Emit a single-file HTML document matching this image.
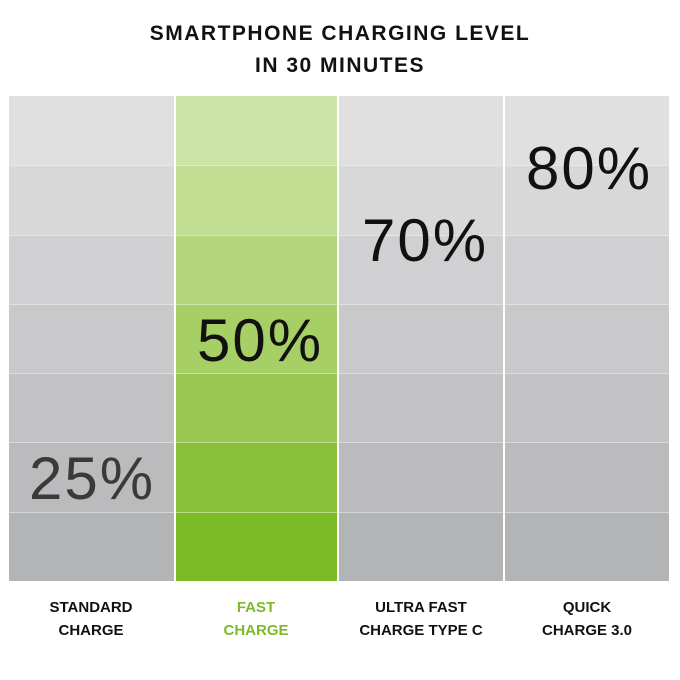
<!DOCTYPE html>
<html><head><style>
body{margin:0;width:680px;height:680px;background:#fff;position:relative;font-family:"Liberation Sans",sans-serif;overflow:hidden}
.t{position:absolute;left:0;width:680px;text-align:center;font-weight:bold;font-size:21px;letter-spacing:1.5px;color:#111}
.col{position:absolute;top:96px;height:485px}
.c{position:absolute;left:0;right:0;border-top:1px solid rgba(255,255,255,0.45);box-sizing:border-box}
.p{position:absolute;font-size:60px;letter-spacing:2px;color:#111;width:200px;text-align:center;line-height:62px}
.l{position:absolute;top:596px;width:170px;text-align:center;font-weight:bold;font-size:15px;line-height:23px;color:#111}
</style></head><body>
<div class="t" style="top:22px">SMARTPHONE CHARGING LEVEL</div>
<div class="t" style="top:54px">IN 30 MINUTES</div>
<div id="g"></div>
<div class="p" style="left:-8px;top:448px;color:#3a3a3a">25%</div>
<div class="p" style="left:160px;top:310px">50%</div>
<div class="p" style="left:325px;top:210px">70%</div>
<div class="p" style="left:489px;top:138px">80%</div>
<div class="l" style="left:6px">STANDARD<br>CHARGE</div>
<div class="l" style="left:171px;color:#7dba27">FAST<br>CHARGE</div>
<div class="l" style="left:336px">ULTRA FAST<br>CHARGE TYPE C</div>
<div class="l" style="left:502px">QUICK<br>CHARGE 3.0</div>
<script>
var gray=['#e0e0e0','#d8d8d8','#d0d0d2','#c9c9cb','#c2c2c4','#bbbbbd','#b3b4b6'];
var green=['#cde4a7','#c1de92','#b3d57c','#a6cf66','#99c752','#8bc13a','#7dba27'];
var tops=[0,69,139,208,277,346,416,485];
var cols=[[9,165,gray],[176,161,green],[339,164,gray],[505,164,gray]];
var h='';
cols.forEach(function(c){h+='<div class="col" style="left:'+c[0]+'px;width:'+c[1]+'px">';
for(var i=0;i<7;i++)h+='<div class="c" style="top:'+tops[i]+'px;height:'+(tops[i+1]-tops[i])+'px;background:'+c[2][i]+';'+(i==0?'border-top:none':'')+'"></div>';
h+='</div>';});
document.getElementById('g').innerHTML=h;
</script>
</body></html>
